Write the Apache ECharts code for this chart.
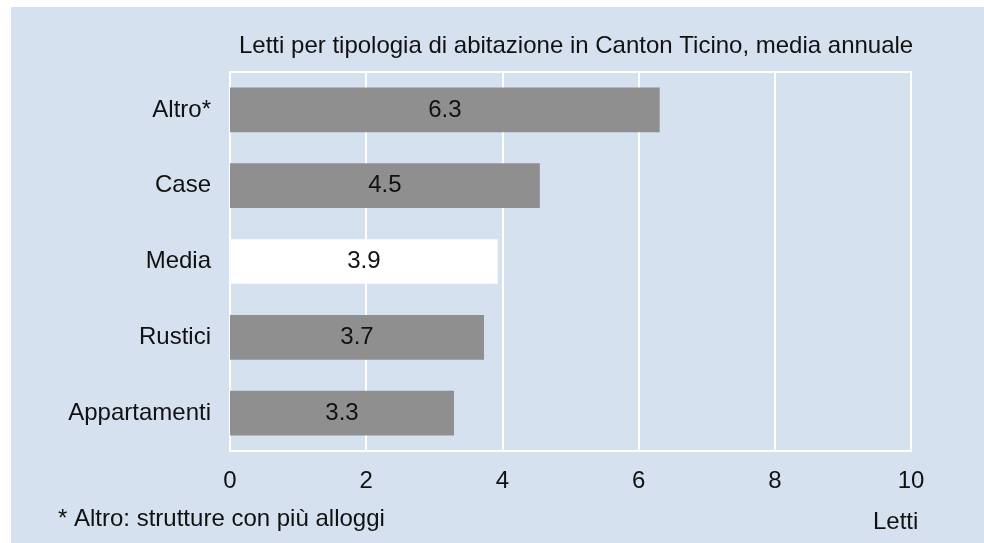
<!DOCTYPE html>
<html>
<head>
<meta charset="utf-8">
<script src="https://cdn.jsdelivr.net/npm/echarts@6/dist/echarts.min.js"></script>
<style>
    html, body {
        margin: 0;
        padding: 0;
        background: #fff;
    }

    .chart {
        width: 984px;
        height: 543px;
    }
</style>
</head>
<body>
<div id="chart" class="chart"></div>
<script>
// categories from bottom to top
const categories = ['Appartamenti', 'Rustici', 'Media', 'Case', 'Altro*']
const values = [3.29, 3.73, 3.93, 4.55, 6.31]
const labels = ['3.3', '3.7', '3.9', '4.5', '6.3']
const xTicks = [0, 2, 4, 6, 8, 10]

const font = 'Liberation Sans, Arial, Helvetica, sans-serif'
const fs = 24

let chart = echarts.init(document.getElementById('chart'))
chart.setOption({
    animation: false,
    graphic: [
        {
            type: 'rect',
            shape: {x: 11, y: 7, width: 973, height: 536},
            style: {fill: '#d5e1ee'},
            z: -10
        },
        {
            type: 'text',
            left: 58,
            top: 507,
            style: {text: '* Altro: strutture con più alloggi', fill: '#111', font: fs + 'px ' + font}
        },
        {
            type: 'text',
            left: 873,
            top: 510,
            style: {text: 'Letti', fill: '#111', font: fs + 'px ' + font}
        }
    ],
    title: {
        text: 'Letti per tipologia di abitazione in Canton Ticino, media annuale',
        left: 234,
        top: 29,
        textStyle: {
            color: '#111',
            fontFamily: font,
            fontSize: fs,
            fontWeight: 'normal'
        }
    },
    grid: {
        left: 230,
        top: 72,
        width: 681,
        height: 379,
        show: true,
        backgroundColor: 'transparent',
        borderColor: '#fff',
        borderWidth: 2
    },
    xAxis: {
        type: 'value',
        min: 0,
        max: 10,
        interval: 2,
        axisLine: {show: false},
        axisTick: {show: false},
        splitLine: {lineStyle: {color: '#fff', width: 2}},
        axisLabel: {
            color: '#111',
            fontFamily: font,
            fontSize: fs,
            margin: 18,
            formatter: function (v) {
                return xTicks.indexOf(v) >= 0 ? String(v) : ''
            }
        }
    },
    yAxis: {
        type: 'category',
        data: categories,
        axisLine: {show: false},
        axisTick: {show: false},
        axisLabel: {
            color: '#111',
            fontFamily: font,
            fontSize: fs,
            margin: 19
        }
    },
    series: [
        {
            type: 'bar',
            barWidth: '59%',
            data: values.map(function (v, i) {
                return {
                    value: v,
                    itemStyle: {color: categories[i] === 'Media' ? '#ffffff' : '#8f8f8f'}
                }
            }),
            label: {
                show: true,
                position: 'inside',
                color: '#111',
                fontFamily: font,
                fontSize: fs,
                formatter: function (p) {
                    return labels[p.dataIndex]
                }
            }
        }
    ]
})
</script>
</body>
</html>
